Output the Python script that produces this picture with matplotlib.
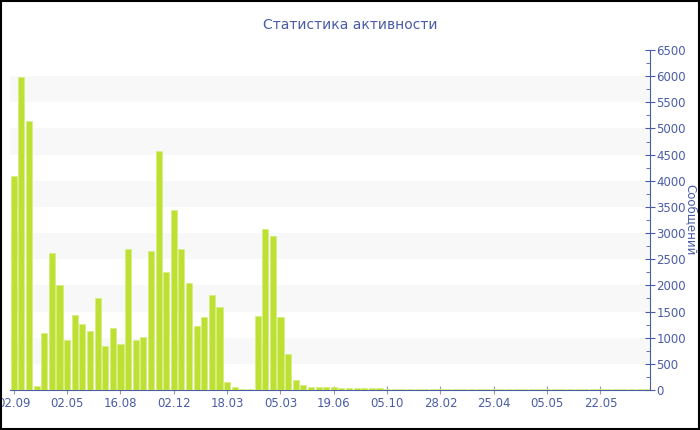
import matplotlib.pyplot as plt
import numpy as np

# Message counts per period
values = [
    4100, 5980, 5140, 80, 1090, 2610, 2010, 960, 1430, 1270,
    1130, 1760, 850, 1190, 880, 2690, 960, 1020, 2660, 4560,
    2250, 3450, 2690, 2040, 1220, 1390, 1810, 1580, 160, 60,
    25, 25, 1410, 3080, 2940, 1400, 680, 190, 90, 57,
    57, 57, 50, 45, 40, 38, 36, 32, 30, 26,
    25, 25, 25, 25, 25, 25, 25, 25, 25, 25,
    25, 25, 25, 25, 25, 25, 25, 25, 25, 25,
    25, 25, 25, 25, 25, 25, 25, 25, 25, 25,
    25, 25, 25, 25,
]
tick_labels = ['02.09', '02.05', '16.08', '02.12', '18.03', '05.03',
               '19.06', '05.10', '28.02', '25.04', '05.05', '22.05']
tick_step = 7

title = 'Статистика активности'
ylabel = 'Сообщений'

text_color = '#4a5ca6'
bar_color = '#bde032'

fig = plt.figure(figsize=(7, 4.3), dpi=100)
ax = fig.add_axes([10 / 700, 40 / 430, 640 / 700, 340 / 430])

x = np.arange(len(values))
ax.bar(x, values, width=0.8, color=bar_color, edgecolor='#d6ee84',
       linewidth=0.6, zorder=3)

# alternating light bands
for lo in range(500, 6500, 1000):
    ax.axhspan(lo, lo + 500, color='#f8f8f8', zorder=0, lw=0)

ax.set_xlim(-0.5, len(values) - 0.5)
ax.set_ylim(0, 6500)

ax.yaxis.tick_right()
ax.set_yticks(np.arange(0, 6501, 500))
ax.set_yticks(np.arange(250, 6500, 500), minor=True)
ax.tick_params(axis='y', which='major', direction='inout', length=7,
               color=text_color, labelcolor=text_color, labelsize=8.5, pad=1)
ax.tick_params(axis='y', which='minor', direction='in', length=3,
               color=text_color)

ax.set_xticks(x[::tick_step][:len(tick_labels)])
ax.set_xticklabels(tick_labels)
ax.tick_params(axis='x', direction='inout', length=6, color='#999999',
               labelcolor=text_color, labelsize=8.5, pad=2)

for side in ['top', 'left']:
    ax.spines[side].set_visible(False)
ax.spines['bottom'].set_color(text_color)
ax.spines['right'].set_color(text_color)

# y axis title, right of the tick labels
fig.text(691 / 700, 0.5 - 5 / 430, ylabel, rotation=-90, ha='center',
         va='center', color=text_color, fontsize=8.5)
fig.text(0.5, 1 - 25 / 430, title, ha='center', va='center',
         color=text_color, fontsize=10)

# black frame around the figure
fig.patches.append(plt.Rectangle((0.001, 0.002), 0.997, 0.996,
                                 transform=fig.transFigure, fill=False,
                                 edgecolor='black', linewidth=1.5))

fig.savefig('out.png', dpi=100)
